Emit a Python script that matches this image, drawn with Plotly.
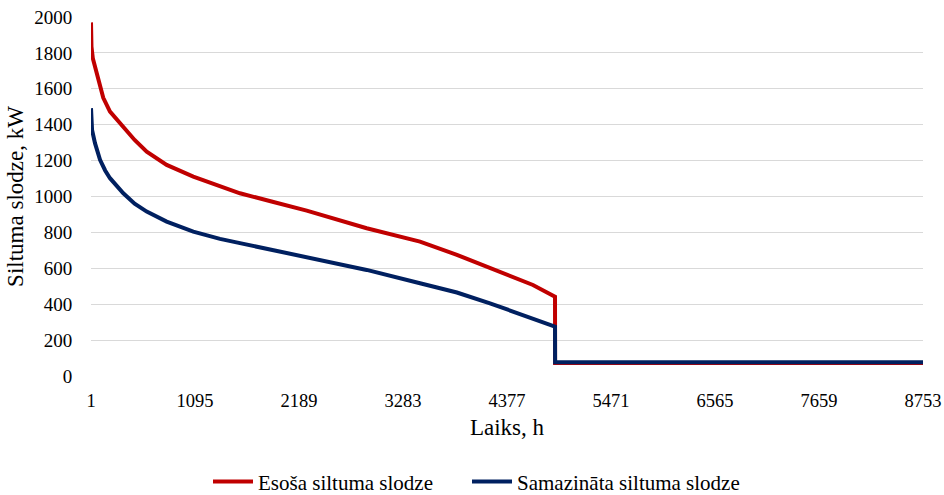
import plotly.graph_objects as go

# Hours (x) and loads (kW)
red_hours = [1, 6, 20, 43, 78, 130, 201, 341, 460, 587, 797, 1077, 1358, 1568, 1900, 2270, 2901, 3462, 3850, 4230, 4650, 4882, 4883, 8753]
red_vals = [1970, 1835, 1770, 1724, 1650, 1550, 1473, 1390, 1315, 1250, 1176, 1111, 1055, 1018, 972, 921, 823, 749, 675, 595, 507, 442, 72, 72]

blue_hours = [1, 12, 43, 96, 150, 201, 341, 460, 587, 797, 1077, 1358, 1568, 1900, 2270, 2901, 3462, 3850, 4198, 4650, 4882, 4883, 8753]
blue_vals = [1492, 1371, 1297, 1204, 1145, 1102, 1018, 960, 916, 860, 804, 764, 740, 702, 661, 591, 517, 465, 405, 322, 275, 77, 77]

x_ticks = [1, 1095, 2189, 3283, 4377, 5471, 6565, 7659, 8753]
y_ticks = [0, 200, 400, 600, 800, 1000, 1200, 1400, 1600, 1800, 2000]

FONT = "Liberation Serif, Times New Roman, serif"

fig = go.Figure()
fig.add_trace(go.Scatter(x=red_hours, y=red_vals, mode="lines", name="Esoša siltuma slodze",
                         line=dict(color="#C00000", width=4), legend="legend"))
fig.add_trace(go.Scatter(x=blue_hours, y=blue_vals, mode="lines", name="Samazināta siltuma slodze",
                         line=dict(color="#002060", width=4), legend="legend2"))

leg_common = dict(orientation="h", xanchor="left", y=-0.295, yanchor="middle",
                  font=dict(size=21, family=FONT), itemwidth=40, bgcolor="rgba(0,0,0,0)")

fig.update_layout(
    width=944, height=495,
    margin=dict(l=91, r=21, t=17, b=119, autoexpand=False),
    paper_bgcolor="white", plot_bgcolor="white",
    font=dict(family=FONT, color="#000000", size=18),
    showlegend=True,
    legend=dict(x=(208 - 91) / 832, **leg_common),
    legend2=dict(x=(467 - 91) / 832, **leg_common),
)
fig.update_xaxes(range=[1, 8753], tickvals=x_ticks, ticktext=[str(v) for v in x_ticks],
                 tickangle=0, automargin=False,
                 showgrid=False, zeroline=False, showline=False,
                 ticks="outside", ticklen=8, tickcolor="rgba(0,0,0,0)",
                 tickfont=dict(size=18.5, family=FONT),
                 title=dict(text="Laiks, h", font=dict(size=23, family=FONT), standoff=8))
fig.update_yaxes(range=[0, 2000], tickvals=y_ticks, showgrid=True, gridcolor="#D9D9D9", gridwidth=1,
                 zeroline=False, showline=False, automargin=False,
                 ticks="outside", ticklen=14, tickcolor="rgba(0,0,0,0)",
                 tickfont=dict(size=19, family=FONT),
                 title=dict(text="Siltuma slodze, kW", font=dict(size=23, family=FONT), standoff=4))

fig.write_html("out.html", post_script="document.body.style.margin='0';",
               config={"displayModeBar": False})
